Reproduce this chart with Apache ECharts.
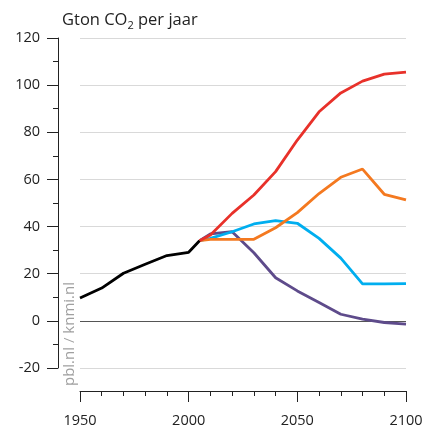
<!DOCTYPE html>
<html>
<head>
<meta charset="utf-8">
<script src="https://cdn.jsdelivr.net/npm/echarts@6/dist/echarts.min.js"></script>
<style>html,body{margin:0;padding:0;background:#fff}#c{width:427px;height:431px}</style>
</head>
<body>
<div id="c"></div>
<script>
const histYears = [1950, 1960, 1970, 1980, 1990, 2000, 2005];
const histValues = [9.7, 13.9, 20.2, 24.0, 27.7, 29.1, 34.0];
const scenYears = [2005, 2010, 2020, 2030, 2040, 2050, 2060, 2070, 2080, 2090, 2100];
const redValues = [34.0, 36.4, 45.6, 53.4, 63.3, 76.7, 88.7, 96.7, 101.7, 104.7, 105.5];
const orangeValues = [34.0, 34.6, 34.6, 34.6, 39.5, 45.9, 54.0, 60.9, 64.4, 53.7, 51.3];
const blueValues = [34.0, 35.0, 37.8, 41.1, 42.5, 41.4, 35.0, 26.6, 15.7, 15.7, 15.8];
const purpleValues = [34.0, 36.9, 37.8, 28.9, 18.3, 12.7, 7.8, 2.8, 0.7, -0.7, -1.4];
const yTicks = [-20, 0, 20, 40, 60, 80, 100, 120];
const xTicks = [1950, 2000, 2050, 2100];

const pair = (xs, ys) => xs.map((x, i) => [x, ys[i]]);
const font = '"Open Sans", Lato, sans-serif';

const chart = echarts.init(document.getElementById('c'));
function mk(name, xs, ys, color, z) {
  return {
    name, type: 'line', data: pair(xs, ys), symbol: 'none', z: z,
    lineStyle: { color: color, width: 2.8 }, itemStyle: { color: color }, animation: false
  };
}
chart.setOption({
  animation: false,
  title: {
    text: 'Gton CO{sub|2} per jaar', left: 57, top: 5,
    textStyle: {
      fontFamily: font, fontSize: 16.5, fontWeight: 'normal', color: '#222',
      rich: { sub: { fontFamily: font, fontSize: 11, color: '#222', verticalAlign: 'bottom', padding: [10, 0, 0, 0] } }
    }
  },
  grid: { left: 80, right: 21, top: 38, bottom: 63 },
  xAxis: {
    type: 'value', min: 1950, max: 2100, interval: 50, offset: 23,
    axisLine: { show: true, onZero: false, lineStyle: { color: '#222', width: 1 } },
    axisTick: { show: true, length: 11, lineStyle: { color: '#222' } },
    minorTick: { show: true, splitNumber: 5, length: 5, lineStyle: { color: '#222' } },
    splitLine: { show: false },
    axisLabel: { fontFamily: font, fontSize: 14.5, color: '#222', margin: 22,
      formatter: v => xTicks.includes(v) ? String(v) : '' }
  },
  yAxis: {
    type: 'value', min: -20, max: 120, interval: 20, offset: 22,
    axisLine: { show: true, onZero: false, lineStyle: { color: '#222', width: 1 } },
    axisTick: { show: true, length: 11, lineStyle: { color: '#222' } },
    minorTick: { show: true, splitNumber: 2, length: 5, lineStyle: { color: '#222' } },
    splitLine: { show: true, showMinLine: true, showMaxLine: true,
      lineStyle: { color: ['#d9d9d9', '#555', '#d9d9d9', '#d9d9d9', '#d9d9d9', '#d9d9d9', '#d9d9d9', '#d9d9d9'], width: 1.2 } },
    axisLabel: { fontFamily: font, fontSize: 14.5, color: '#222', margin: 18,
      formatter: v => yTicks.includes(v) ? String(v) : '' }
  },
  graphic: [{
    type: 'text', x: 70, y: 334, rotation: Math.PI / 2, origin: [0, 0],
    style: { text: 'pbl.nl / knmi.nl', font: '15px ' + font, fill: '#a0a0a0', align: 'center', verticalAlign: 'middle' }
  }],
  series: [
    mk('hist', histYears, histValues, '#000000', 6),
    mk('purple', scenYears, purpleValues, '#5e4b8b', 2),
    mk('blue', scenYears, blueValues, '#00aeef', 3),
    mk('orange', scenYears, orangeValues, '#f47920', 4),
    mk('red', scenYears, redValues, '#e8312a', 5)
  ]
});
</script>
</body>
</html>
